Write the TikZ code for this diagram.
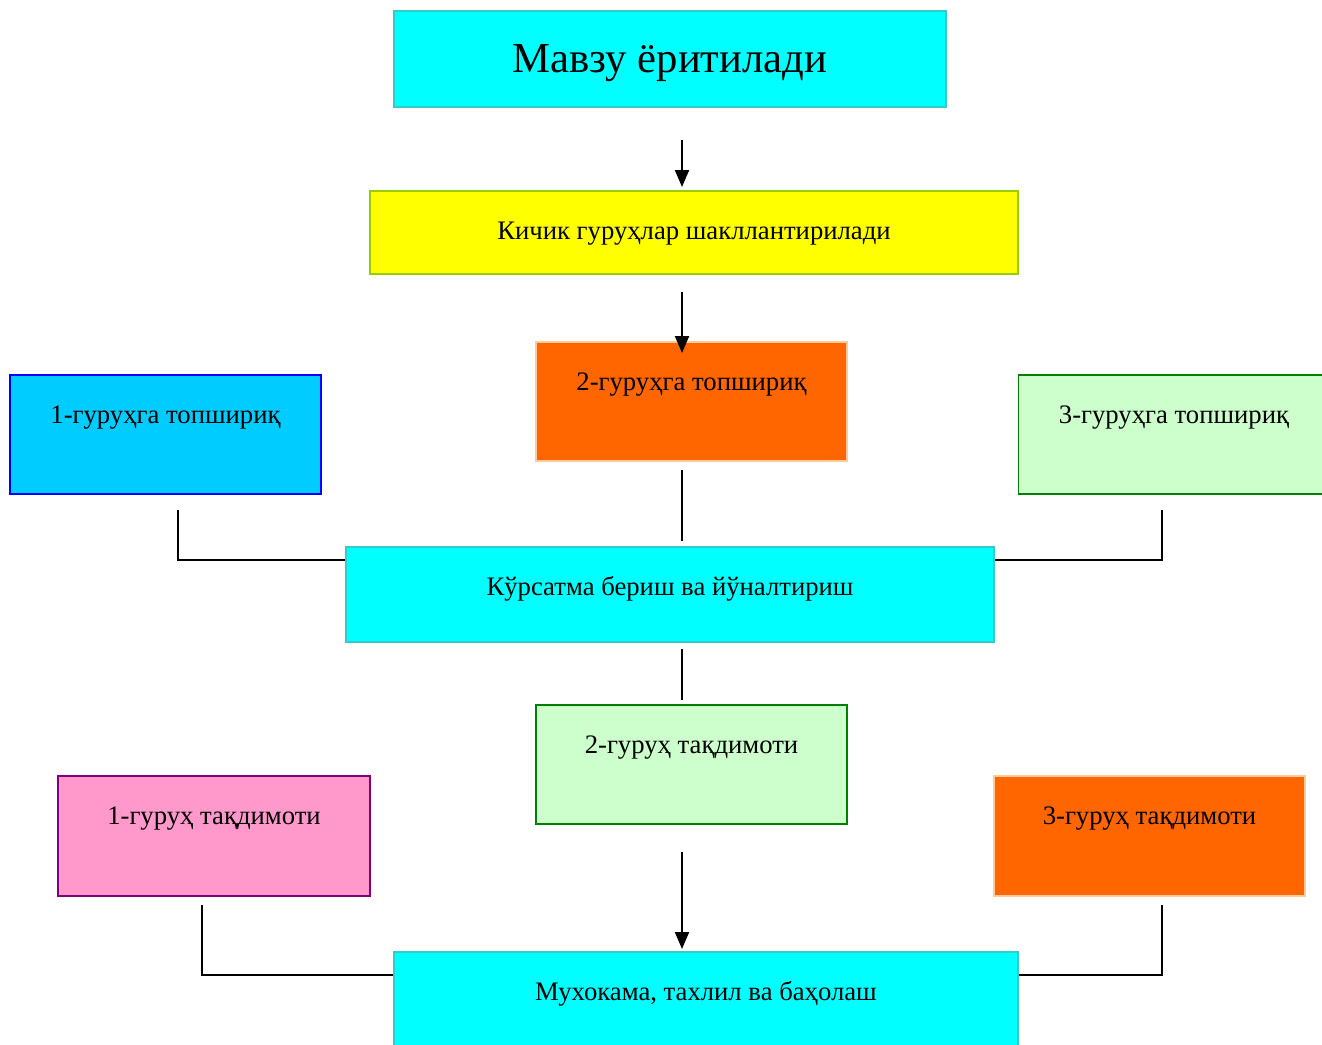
\documentclass[tikz,border=0pt]{standalone}
\usepackage{fontspec}
\setmainfont{Liberation Serif}
\usetikzlibrary{arrows.meta}
\definecolor{cyanfill}{HTML}{00FFFF}
\definecolor{cyanline}{HTML}{33CCCC}
\definecolor{yelfill}{HTML}{FFFF00}
\definecolor{yelline}{HTML}{99CC00}
\definecolor{orafill}{HTML}{FF6600}
\definecolor{oraline}{HTML}{FFCC99}
\definecolor{skyfill}{HTML}{00CCFF}
\definecolor{skyline}{HTML}{0000FF}
\definecolor{mintfill}{HTML}{CCFFCC}
\definecolor{mintline}{HTML}{008000}
\definecolor{pinkfill}{HTML}{FF99CC}
\definecolor{pinkline}{HTML}{800080}
\tikzset{
  box/.style={rectangle, line width=1.5pt, inner sep=0pt},
  txt/.style={font=\fontsize{26.7}{32}\selectfont, inner sep=0pt, anchor=base},
  bigtxt/.style={font=\fontsize{42.7}{50}\selectfont, inner sep=0pt, anchor=base},
  conn/.style={line width=2pt},
  arr/.style={conn, -{Triangle[length=17pt,width=14pt]}}
}
\begin{document}
\begin{tikzpicture}[x=1pt,y=-1pt]
\clip (0,0) rectangle (1322,1044);
% boxes
\node[box, fill=cyanfill, draw=cyanline, minimum width=552, minimum height=96] (topic) at (670,59) {};
\node[box, fill=yelfill, draw=yelline, minimum width=648, minimum height=83] (groups) at (694,232.5) {};
\node[box, fill=orafill, draw=oraline, minimum width=311, minimum height=119] (task2) at (691.5,401.5) {};
\node[box, fill=skyfill, draw=skyline, minimum width=311, minimum height=119] (task1) at (165.5,434.5) {};
\node[box, fill=mintfill, draw=mintline, minimum width=311, minimum height=119] (task3) at (1174,434.5) {};
\node[box, fill=cyanfill, draw=cyanline, minimum width=648, minimum height=95] (guide) at (670,594.5) {};
\node[box, fill=mintfill, draw=mintline, minimum width=311, minimum height=119] (pres2) at (691.5,764.5) {};
\node[box, fill=pinkfill, draw=pinkline, minimum width=312, minimum height=120] (pres1) at (214,836) {};
\node[box, fill=orafill, draw=oraline, minimum width=311, minimum height=120] (pres3) at (1149.5,836) {};
\node[box, fill=cyanfill, draw=cyanline, minimum width=624, minimum height=95] (discuss) at (706,999.5) {};
% texts
\node[bigtxt] (topic-t) at ([yshift=-62]topic.north) {Мавзу ёритилади};
\node[txt] (groups-t) at ([yshift=-49]groups.north) {Кичик гуруҳлар шакллантирилади};
\node[txt] (task2-t) at ([yshift=-49]task2.north) {2-гуруҳга топшириқ};
\node[txt] (task1-t) at ([yshift=-49]task1.north) {1-гуруҳга топшириқ};
\node[txt] (task3-t) at ([yshift=-49]task3.north) {3-гуруҳга топшириқ};
\node[txt] (guide-t) at ([yshift=-49]guide.north) {Кўрсатма бериш ва йўналтириш};
\node[txt] (pres2-t) at ([yshift=-49]pres2.north) {2-гуруҳ тақдимоти};
\node[txt] (pres1-t) at ([yshift=-49]pres1.north) {1-гуруҳ тақдимоти};
\node[txt] (pres3-t) at ([yshift=-49]pres3.north) {3-гуруҳ тақдимоти};
\node[txt] (discuss-t) at ([yshift=-49]discuss.north) {Мухокама, тахлил ва баҳолаш};
% connector ends
\coordinate (a1) at (682,140);
\coordinate (a2) at (682,187);
\coordinate (b1) at (682,292);
\coordinate (b2) at (682,353);
\coordinate (c1) at (682,470);
\coordinate (c2) at (682,541);
\coordinate (l1) at (178,510);
\coordinate (l2) at (178,560);
\coordinate (r1) at (1162,510);
\coordinate (r2) at (1162,560);
\coordinate (d1) at (682,649);
\coordinate (d2) at (682,700);
\coordinate (e1) at (682,852);
\coordinate (e2) at (682,949);
\coordinate (m1) at (202,905);
\coordinate (m2) at (202,975);
\coordinate (n1) at (1162,905);
\coordinate (n2) at (1162,975);
% connectors
\draw[arr] (a1) -- (a2);
\draw[arr] (b1) -- (b2);
\draw[conn] (c1) -- (c2);
\draw[conn] (l1) -- (l2) -- (l2 -| guide.west);
\draw[conn] (r1) -- (r2) -- (r2 -| guide.east);
\draw[conn] (d1) -- (d2);
\draw[arr] (e1) -- (e2);
\draw[conn] (m1) -- (m2) -- (m2 -| discuss.west);
\draw[conn] (n1) -- (n2) -- (n2 -| discuss.east);
\end{tikzpicture}
\end{document}
